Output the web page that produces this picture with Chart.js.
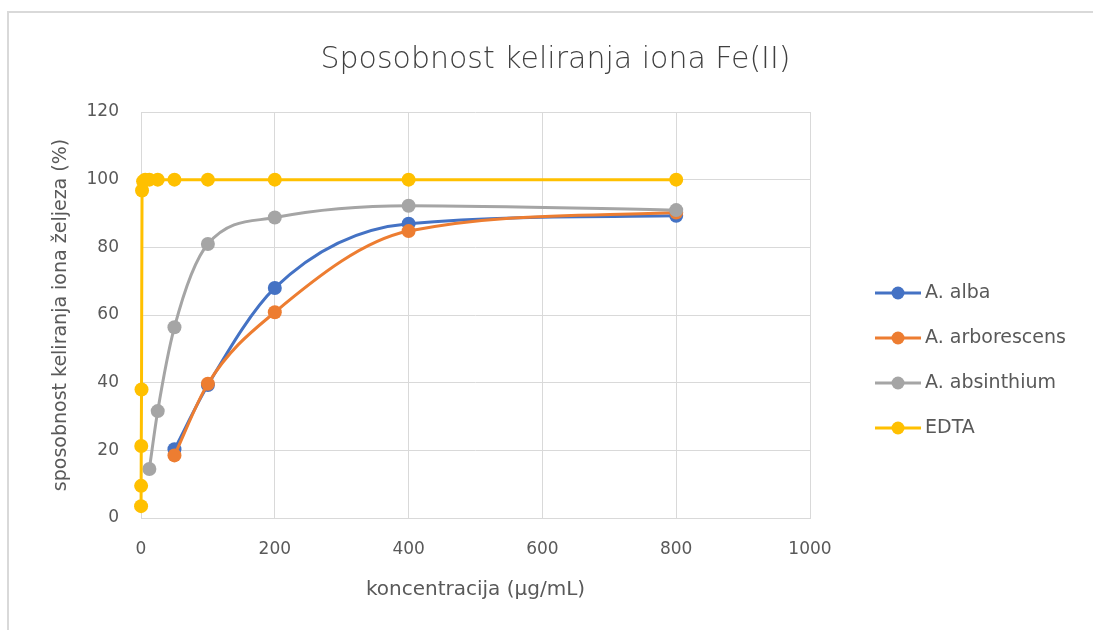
<!DOCTYPE html>
<html lang="hr">
<head>
<meta charset="UTF-8">
<title>Sposobnost keliranja iona Fe(II)</title>
<script src="https://cdn.jsdelivr.net/npm/chart.js@4/dist/chart.umd.min.js"></script>
<style>
  html, body { margin: 0; padding: 0; background: #fff; overflow: hidden; }
  canvas { display: block; }
</style>
</head>
<body>
<canvas id="chart" width="1093" height="630"></canvas>
<script>
  // values
  const seriesNames = ["A. alba", "A. arborescens", "A. absinthium", "EDTA"];
  const seriesColors = ["#4472C4", "#ED7D31", "#A5A5A5", "#FFC000"];

  const albaX = [50, 100, 200, 400, 800];
  const albaY = [20.3, 39.3, 68, 87, 89.3];

  const arboX = [50, 100, 200, 400, 800];
  const arboY = [18.5, 39.7, 60.8, 84.8, 90.3];

  const absiX = [12.5, 25, 50, 100, 200, 400, 800];
  const absiY = [14.5, 31.6, 56.4, 81, 88.8, 92.3, 91];

  const edtaX = [0.1, 0.2, 0.39, 0.78, 1.56, 3.125, 6.25, 12.5, 25, 50, 100, 200, 400, 800];
  const edtaY = [3.5, 9.5, 21.3, 38, 96.8, 99.5, 100, 100, 100, 100, 100, 100, 100, 100];

  const xTicks = [0, 200, 400, 600, 800, 1000];
  const yTicks = [0, 20, 40, 60, 80, 100, 120];

  const FONT = "'DejaVu Sans', sans-serif";
  const TEXT = "#595959";

  const pts = (xs, ys) => xs.map((x, i) => ({ x: x, y: ys[i] }));
  const allSeries = [pts(albaX, albaY), pts(arboX, arboY), pts(absiX, absiY), pts(edtaX, edtaY)];

  const datasets = allSeries.map((d, i) => ({
    label: seriesNames[i],
    data: d,
    yAxisID: 'y',
    borderColor: seriesColors[i],
    backgroundColor: seriesColors[i],
    borderWidth: 3,
    pointRadius: 7,
    pointHoverRadius: 7,
    pointBorderWidth: 0,
    cubicInterpolationMode: 'monotone',
    clip: false,
    order: 3 - i
  }));

  // the grey frame of the cropped Excel chart (top and left edges only)
  const frame = {
    id: 'frame',
    beforeDraw(chart) {
      const ctx = chart.ctx;
      ctx.save();
      ctx.strokeStyle = '#d9d9d9';
      ctx.lineWidth = 2;
      ctx.beginPath();
      ctx.moveTo(8, chart.height);
      ctx.lineTo(8, 12);
      ctx.lineTo(chart.width, 12);
      ctx.stroke();
      ctx.restore();
    }
  };

  // Excel-style legend: line with a dot in the middle
  const sideLegend = {
    id: 'sideLegend',
    afterDraw(chart) {
      const ctx = chart.ctx;
      const x0 = 875, rowY = 293, gap = 45;
      ctx.save();
      seriesNames.forEach((name, i) => {
        const y = rowY + i * gap;
        ctx.strokeStyle = seriesColors[i];
        ctx.lineWidth = 3;
        ctx.beginPath();
        ctx.moveTo(x0, y);
        ctx.lineTo(x0 + 46, y);
        ctx.stroke();
        ctx.fillStyle = seriesColors[i];
        ctx.beginPath();
        ctx.arc(x0 + 23, y, 6.5, 0, Math.PI * 2);
        ctx.fill();
        ctx.fillStyle = TEXT;
        ctx.font = "19px " + FONT;
        ctx.textBaseline = 'middle';
        ctx.textAlign = 'left';
        ctx.fillText(name, x0 + 50, y);
      });
      ctx.restore();
    }
  };

  new Chart(document.getElementById('chart'), {
    type: 'line',
    data: { datasets: datasets },
    plugins: [frame, sideLegend],
    options: {
      responsive: false,
      animation: false,
      layout: { padding: { left: 18, right: 0, top: 0, bottom: 0 } },
      plugins: {
        legend: { display: false },
        tooltip: { enabled: false },
        title: {
          display: true,
          text: 'Sposobnost keliranja iona Fe(II)',
          color: '#404040',
          font: { family: FONT, size: 30, weight: '300' },
          padding: { top: 42, bottom: 34 }
        }
      },
      scales: {
        x: {
          type: 'linear',
          min: 0, max: 1000,
          afterBuildTicks: (s) => { s.ticks = xTicks.map(v => ({ value: v })); },
          afterFit: (s) => { s.height = 112; },
          ticks: { color: TEXT, font: { family: FONT, size: 17 }, padding: 21, callback: (v) => String(v) },
          grid: { color: '#d9d9d9', lineWidth: 1, drawTicks: false },
          border: { color: '#d9d9d9' },
          title: {
            display: true,
            text: 'koncentracija (µg/mL)',
            color: TEXT,
            font: { family: FONT, size: 20 },
            padding: { top: 0, bottom: 28 }
          }
        },
        y: {
          min: 0, max: 120,
          position: 'left',
          afterBuildTicks: (s) => { s.ticks = yTicks.map(v => ({ value: v })); },
          afterFit: (s) => { s.width = 123; },
          ticks: { color: TEXT, font: { family: FONT, size: 17 }, padding: 22 },
          grid: { color: '#d9d9d9', lineWidth: 1, drawTicks: false },
          border: { display: false },
          title: {
            display: true,
            text: 'sposobnost keliranja iona željeza (%)',
            color: TEXT,
            font: { family: FONT, size: 19 },
            padding: { top: 32, bottom: 32 }
          }
        },
        // empty box on the right that keeps room for the legend
        side: {
          type: 'linear',
          position: 'right',
          display: true,
          afterFit: (s) => { s.width = 283; },
          ticks: { display: false },
          grid: { display: false, drawTicks: false },
          border: { display: false },
          title: { display: false }
        }
      }
    }
  });
</script>
</body>
</html>
